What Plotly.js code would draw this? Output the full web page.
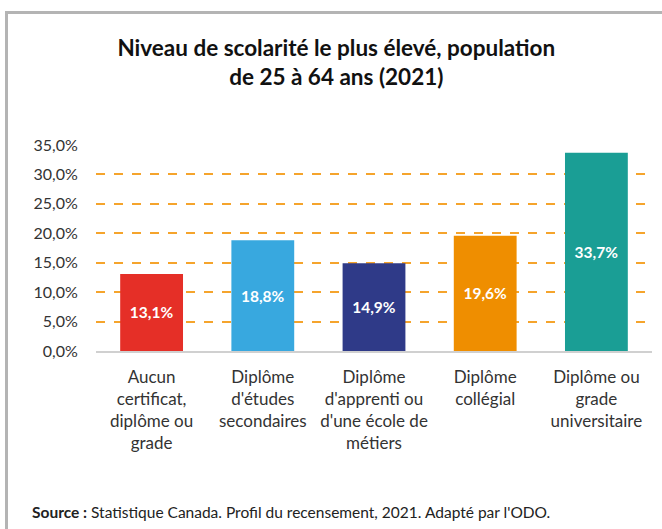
<!DOCTYPE html>
<html>
<head>
<meta charset="utf-8">
<script src="https://cdn.plot.ly/plotly-3.0.1.min.js"></script>
<style>
  body { margin: 0; background: #fff; }
  #graph { width: 662px; height: 529px; }
  #frame { position: absolute; left: 5px; top: 11px; width: 670px; height: 530px;
           border: 3px solid #b4b4b4; pointer-events: none; }
</style>
</head>
<body>
<div id="graph"></div>
<div id="frame"></div>
<script>
var categories = [
    'Aucun<br>certificat,<br>diplôme ou<br>grade',
    'Diplôme<br>d\'études<br>secondaires',
    'Diplôme<br>d\'apprenti ou<br>d\'une école de<br>métiers',
    'Diplôme<br>collégial',
    'Diplôme ou<br>grade<br>universitaire'
];
var values = [13.1, 18.8, 14.9, 19.6, 33.7];
var barColors = ['#e52f27', '#38a8df', '#2f3a88', '#ef8e00', '#1a9e95'];
var yTicks = [0, 5, 10, 15, 20, 25, 30, 35];
var yTickText = yTicks.map(function(v){ return v.toFixed(1).replace('.', ',') + '%'; });

var font = 'Lato, "Open Sans", sans-serif';

var trace = {
    type: 'bar',
    x: categories,
    y: values,
    marker: { color: barColors },
    width: 0.565,
    text: values,
    texttemplate: '<b>%{y:.1f}%</b>',
    textposition: 'inside',
    insidetextanchor: 'middle',
    textfont: { color: '#ffffff', size: 15.5, family: font },
    hoverinfo: 'skip'
};

var layout = {
    width: 662,
    height: 529,
    separators: ', ',
    margin: { l: 96, r: 10, t: 145, b: 178 },
    paper_bgcolor: '#ffffff',
    plot_bgcolor: '#ffffff',
    font: { family: font, color: '#333333' },
    title: {
        text: '<b>Niveau de scolarité le plus élevé, population<br>de 25 à 64 ans (2021)</b>',
        font: { size: 22.5, color: '#111111', family: font },
        x: 0.508, xanchor: 'center',
        y: 0.895, yanchor: 'middle'
    },
    xaxis: {
        range: [-0.5, 4.5],
        showgrid: false,
        showline: true,
        linecolor: '#d0d0d0',
        linewidth: 1.5,
        ticks: 'outside',
        ticklen: 10,
        tickcolor: 'rgba(0,0,0,0)',
        tickfont: { size: 17, color: '#333333' },
        fixedrange: true
    },
    yaxis: {
        range: [0, 35],
        tickvals: yTicks,
        ticktext: yTickText,
        showgrid: true,
        gridcolor: '#f5a42c',
        griddash: 'dash',
        gridwidth: 2,
        zeroline: false,
        layer: 'below traces',
        ticks: 'outside',
        ticklen: 14,
        tickcolor: 'rgba(0,0,0,0)',
        tickfont: { size: 16, color: '#333333' },
        fixedrange: true
    },
    annotations: [{
        xref: 'paper', yref: 'paper',
        x: (30 - 96) / 556, y: -0.78,
        xanchor: 'left', yanchor: 'middle',
        showarrow: false,
        text: '<b>Source :</b> Statistique Canada. Profil du recensement, 2021. Adapté par l\'ODO.',
        font: { size: 15.5, color: '#222222', family: font }
    }],
    showlegend: false
};

Plotly.newPlot('graph', [trace], layout, { displayModeBar: false, staticPlot: true });
</script>
</body>
</html>
